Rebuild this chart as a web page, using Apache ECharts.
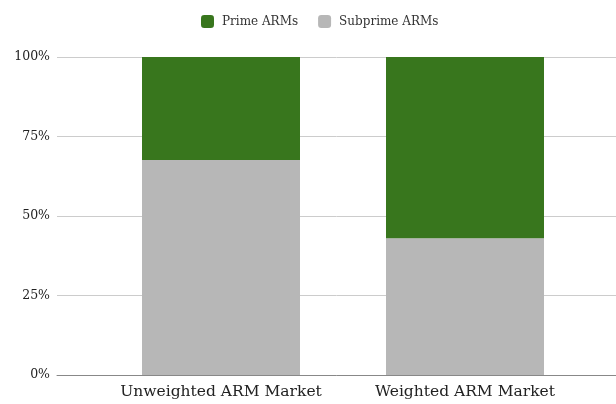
<!DOCTYPE html>
<html>
<head>
<meta charset="utf-8">
<script src="https://cdn.jsdelivr.net/npm/echarts@6/dist/echarts.min.js"></script>
<style>
  html, body { margin: 0; padding: 0; background: #fff; }
  #chart { width: 616px; height: 404px; }
</style>
</head>
<body>
<div id="chart"></div>
<script>
// Share of ARM market by segment (percent)
const categories = ['Unweighted ARM Market', 'Weighted ARM Market'];
const subprimeShare = [67.6, 43.0];
const primeShare = [32.4, 57.0];
const yTicks = [0, 25, 50, 75, 100];

const FONT = '"DejaVu Serif", "Liberation Serif", serif';

const chart = echarts.init(document.getElementById('chart'), null, { renderer: 'canvas' });

chart.setOption({
  animation: false,
  backgroundColor: '#ffffff',
  legend: {
    top: 10,
    left: 196,
    itemWidth: 13,
    itemHeight: 13,
    itemGap: 20,
    icon: 'roundRect',
    data: ['Prime ARMs', 'Subprime ARMs'],
    textStyle: { fontFamily: FONT, fontSize: 12, color: '#333', padding: [0, 0, 0, 3] }
  },
  grid: [
    // full-width grid carrying the percentage axis and gridlines
    { left: 57, right: 0, top: 57, bottom: 29 },
    // inner grid where the bars sit
    { left: 99, right: 29, top: 57, bottom: 29 }
  ],
  xAxis: [
    {
      gridIndex: 0, type: 'value', min: 0, max: 1,
      axisLine: { show: true, lineStyle: { color: '#888', width: 1 } },
      axisTick: { show: false }, axisLabel: { show: false }, splitLine: { show: false }
    },
    {
      gridIndex: 1, type: 'category', data: categories,
      axisLine: { show: false }, axisTick: { show: false },
      axisLabel: { interval: 0, fontFamily: FONT, fontSize: 15.5, color: '#222', margin: 9 }
    }
  ],
  yAxis: [
    {
      gridIndex: 0, type: 'value', min: yTicks[0], max: yTicks[yTicks.length - 1], interval: 25,
      axisLine: { show: false }, axisTick: { show: false },
      axisLabel: { formatter: '{value}%', fontFamily: FONT, fontSize: 12.5, color: '#222', margin: 7 },
      splitLine: { lineStyle: { color: '#cccccc', width: 1 } }
    },
    {
      gridIndex: 1, type: 'value', min: 0, max: 100, show: false
    }
  ],
  series: [
    {
      name: 'Subprime ARMs', type: 'bar', stack: 'share',
      xAxisIndex: 1, yAxisIndex: 1,
      data: subprimeShare, barWidth: 158,
      itemStyle: { color: '#b7b7b7' }
    },
    {
      name: 'Prime ARMs', type: 'bar', stack: 'share',
      xAxisIndex: 1, yAxisIndex: 1,
      data: primeShare, barWidth: 158,
      itemStyle: { color: '#38761d' }
    }
  ]
});
</script>
</body>
</html>
